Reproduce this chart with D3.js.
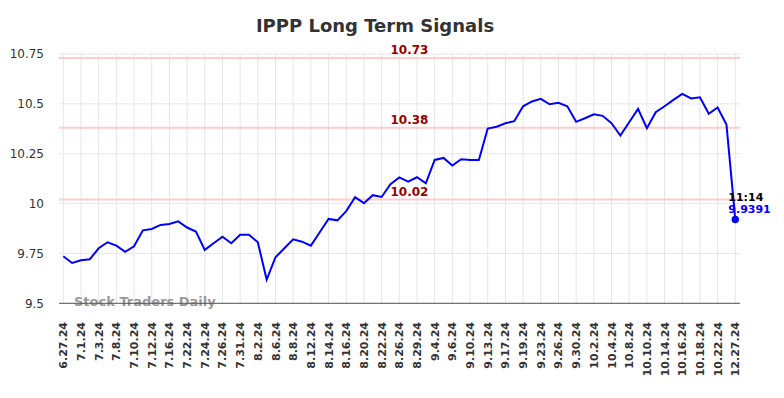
<!DOCTYPE html>
<html lang="en">
<head>
    <meta charset="UTF-8">
    <title>IPPP Long Term Signals</title>
    <script src="https://d3js.org/d3.v7.min.js"></script>
    <style>
        body { margin: 0; background: #fff; }
        text { font-family: "DejaVu Sans", sans-serif; }
    </style>
</head>
<body>
<div id="chart"></div>
<script>

// tick labels, one for every second point
const tickLabels = ['6.27.24', '7.1.24', '7.3.24', '7.8.24', '7.10.24', '7.12.24', '7.16.24',
    '7.22.24', '7.24.24', '7.26.24', '7.31.24', '8.2.24', '8.6.24', '8.8.24', '8.12.24',
    '8.14.24', '8.16.24', '8.20.24', '8.22.24', '8.26.24', '8.29.24', '9.4.24', '9.6.24',
    '9.10.24', '9.13.24', '9.17.24', '9.19.24', '9.23.24', '9.26.24', '9.30.24', '10.2.24',
    '10.4.24', '10.8.24', '10.10.24', '10.14.24', '10.16.24', '10.18.24', '10.22.24', '12.27.24'];

// closing prices
const prices = [9.736, 9.702, 9.716, 9.721, 9.776, 9.806, 9.789, 9.758, 9.786, 9.866,
    9.873, 9.893, 9.898, 9.911, 9.880, 9.860, 9.768, 9.801, 9.834, 9.801,
    9.844, 9.844, 9.806, 9.619, 9.731, 9.776, 9.821, 9.809, 9.789, 9.856,
    9.923, 9.916, 9.962, 10.032, 10.002, 10.042, 10.033, 10.097, 10.131, 10.110,
    10.132, 10.102, 10.219, 10.229, 10.191, 10.222, 10.219, 10.219, 10.376, 10.385,
    10.403, 10.413, 10.488, 10.512, 10.525, 10.498, 10.505, 10.488, 10.410, 10.428,
    10.448, 10.440, 10.403, 10.341, 10.408, 10.475, 10.378, 10.458, 10.488, 10.520,
    10.550, 10.527, 10.533, 10.450, 10.482, 10.396, 9.920];

const yTicks = [9.5, 9.75, 10, 10.25, 10.5, 10.75];
const signals = [10.73, 10.38, 10.02];
const lastTime = '11:14';
const lastLabel = '9.9391';

const width = 784, height = 398;
const plotLeft = 59, plotRight = 740, plotTop = 53, plotBottom = 303.3;

const svg = d3.select('#chart').append('svg')
    .attr('width', width)
    .attr('height', height);

const x = d3.scaleLinear().domain([0, prices.length - 1]).range([63.3, 735.3]);
const y = d3.scaleLinear().domain([9.5, 10.75]).range([plotBottom, 54]);

//grid
const tickIdx = tickLabels.map((d, i) => i * 2);
svg.append('g').selectAll('line').data(tickIdx).join('line')
    .attr('x1', d => x(d)).attr('x2', d => x(d))
    .attr('y1', plotTop).attr('y2', plotBottom)
    .style('stroke', '#e6e6e6').style('stroke-width', 1);

svg.append('g').selectAll('line').data(yTicks).join('line')
    .attr('x1', plotLeft).attr('x2', plotRight)
    .attr('y1', d => y(d)).attr('y2', d => y(d))
    .style('stroke', '#e6e6e6').style('stroke-width', 1);

//y axis labels
svg.append('g').selectAll('text').data(yTicks).join('text')
    .attr('x', 44).attr('y', d => y(d))
    .attr('dy', '0.35em')
    .attr('text-anchor', 'end')
    .style('font-size', '12px')
    .style('fill', '#333')
    .text(d => d);

//x axis labels
svg.append('g').selectAll('text').data(tickIdx).join('text')
    .attr('transform', d => `translate(${x(d) + 4},322) rotate(-90)`)
    .attr('text-anchor', 'end')
    .style('font-size', '11px')
    .style('font-weight', 'bold')
    .style('fill', '#333')
    .text((d, i) => tickLabels[i]);

//signal lines
svg.append('g').selectAll('line').data(signals).join('line')
    .attr('x1', plotLeft).attr('x2', plotRight)
    .attr('y1', d => y(d)).attr('y2', d => y(d))
    .style('stroke', '#ffcccc').style('stroke-width', 2);

svg.append('g').selectAll('text').data(signals).join('text')
    .attr('x', 409.5).attr('y', d => y(d) - 4)
    .attr('text-anchor', 'middle')
    .style('font-size', '12px')
    .style('font-weight', 'bold')
    .style('fill', '#990000')
    .text(d => d.toFixed(2));

//watermark
svg.append('text')
    .attr('x', 74).attr('y', 306)
    .style('font-size', '13px')
    .style('font-weight', 'bold')
    .style('fill', '#999')
    .text('Stock Traders Daily');

//axis line
svg.append('line')
    .attr('x1', plotLeft).attr('x2', plotRight)
    .attr('y1', plotBottom).attr('y2', plotBottom)
    .style('stroke', '#555').style('stroke-width', 1);

//price line
svg.append('path')
    .datum(prices)
    .attr('d', d3.line().x((d, i) => x(i)).y(d => y(d)))
    .style('fill', 'none')
    .style('stroke', '#0000ff')
    .style('stroke-width', 2);

const lastI = prices.length - 1;
svg.append('circle')
    .attr('cx', x(lastI)).attr('cy', y(prices[lastI]))
    .attr('r', 3.7)
    .style('fill', '#0000ff');

svg.append('text')
    .attr('x', x(lastI) - 7).attr('y', 200.5)
    .style('font-size', '11px')
    .style('font-weight', 'bold')
    .style('fill', '#000')
    .text(lastTime);

svg.append('text')
    .attr('x', x(lastI) - 7).attr('y', 213)
    .style('font-size', '11px')
    .style('font-weight', 'bold')
    .style('fill', '#0000ff')
    .text(lastLabel);

//title
svg.append('text')
    .attr('x', 375).attr('y', 32)
    .attr('text-anchor', 'middle')
    .style('font-size', '18px')
    .style('font-weight', 'bold')
    .style('fill', '#333')
    .text('IPPP Long Term Signals');

</script>
</body>
</html>
